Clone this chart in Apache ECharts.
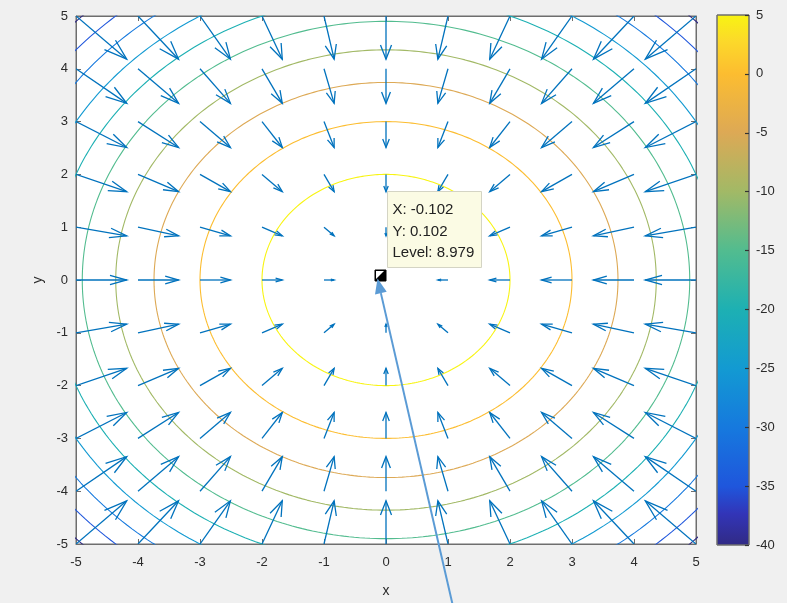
<!DOCTYPE html>
<html>
<head>
<meta charset="utf-8">
<script src="https://cdn.jsdelivr.net/npm/echarts@6/dist/echarts.min.js"></script>
<style>
html,body{margin:0;padding:0;background:#f0f0f0;}
#chart{width:787px;height:603px;}
</style>
</head>
<body>
<div id="chart"></div>
<script>
// ---- data ----
const xTicks = [-5, -4, -3, -2, -1, 0, 1, 2, 3, 4, 5];
const yTicks = [-5, -4, -3, -2, -1, 0, 1, 2, 3, 4, 5];
const gridX = [-5, -4, -3, -2, -1, 0, 1, 2, 3, 4, 5];
const gridY = [-5, -4, -3, -2, -1, 0, 1, 2, 3, 4, 5];
const gradU = [10, 8, 6, 4, 2, 0, -2, -4, -6, -8, -10];   // u at each gridX
const gradV = [10, 8, 6, 4, 2, 0, -2, -4, -6, -8, -10];   // v at each gridY
const levels = [-40, -35, -30, -25, -20, -15, -10, -5, 0, 5];
const surfacePeak = 9;            // f(x,y) = 9 - x^2 - y^2
const colorbarTicks = [-40, -35, -30, -25, -20, -15, -10, -5, 0, 5];
const dataTipX = -0.102;
const dataTipY = 0.102;
const dataTipLevel = 8.979;

// ---- styling helpers ----
const cmapStops = [
  [0.000, '#312a84'], [0.060, '#3235b8'], [0.111, '#1f56dc'], [0.222, '#1679de'],
  [0.333, '#139ad2'], [0.444, '#1db0b3'], [0.556, '#52bc8f'], [0.667, '#a2b966'],
  [0.778, '#dda955'], [0.889, '#fcbd30'], [0.950, '#fcd92a'], [1.000, '#f8f412']
];
function hex2rgb(h) { return [parseInt(h.slice(1,3),16), parseInt(h.slice(3,5),16), parseInt(h.slice(5,7),16)]; }
function cmapAt(t) {
  t = Math.max(0, Math.min(1, t));
  let i = 0;
  while (i < cmapStops.length - 2 && t > cmapStops[i + 1][0]) i++;
  const [t0, c0] = cmapStops[i], [t1, c1] = cmapStops[i + 1];
  const f = (t - t0) / (t1 - t0);
  const a = hex2rgb(c0), b = hex2rgb(c1);
  const c = a.map((v, k) => Math.round(v + (b[k] - v) * f));
  return 'rgb(' + c.join(',') + ')';
}
const cMin = colorbarTicks[0], cMax = colorbarTicks[colorbarTicks.length - 1];
const FONT = "'Liberation Sans', Arial, Helvetica, sans-serif";
const AXIS_COLOR = '#6e6e6e';
const LABEL_COLOR = '#2b2b2b';
const QUIVER_COLOR = '#0072BD';

// contour series
const contourSeries = levels.map(L => {
  const r = Math.sqrt(surfacePeak - L);
  const pts = [];
  for (let a = 0; a <= 360; a += 1) {
    const t = a * Math.PI / 180;
    pts.push([r * Math.cos(t), r * Math.sin(t)]);
  }
  return {
    type: 'line', xAxisIndex: 0, yAxisIndex: 0, data: pts, showSymbol: false, symbol: 'none',
    clip: true, silent: true, z: 2,
    lineStyle: { color: cmapAt((L - cMin) / (cMax - cMin)), width: 1.1 }
  };
});

// quiver data
const quiverData = [];
gridX.forEach((x, i) => gridY.forEach((y, j) => quiverData.push([x, y, gradU[i], gradV[j]])));
const SCALE = 0.0818, ALPHA = 0.33, BETA = 0.33;

const chart = echarts.init(document.getElementById('chart'), null, { renderer: 'canvas' });

const mirrorAxisStyle = {
  axisLine: { show: true, onZero: false, lineStyle: { color: AXIS_COLOR } },
  axisTick: { show: true, inside: true, length: 5, lineStyle: { color: AXIS_COLOR } },
  axisLabel: { show: false }, splitLine: { show: false }
};

const option = {
  animation: false,
  backgroundColor: '#f0f0f0',
  textStyle: { fontFamily: FONT },
  grid: [
    { left: 76, right: 91, top: 16, bottom: 59, show: true, backgroundColor: '#ffffff', borderColor: AXIS_COLOR, borderWidth: 1 },
    { left: 717, width: 32, top: 15, height: 530 }
  ],
  xAxis: [
    { gridIndex: 0, type: 'value', min: xTicks[0], max: xTicks[xTicks.length - 1], interval: 1, position: 'bottom',
      axisLine: { show: true, onZero: false, lineStyle: { color: AXIS_COLOR } },
      axisTick: { show: true, inside: true, length: 5, lineStyle: { color: AXIS_COLOR } },
      axisLabel: { color: LABEL_COLOR, fontSize: 13, fontFamily: FONT, margin: 12 },
      splitLine: { show: false },
      name: 'x', nameLocation: 'middle', nameGap: 40, nameTextStyle: { color: LABEL_COLOR, fontSize: 14, fontFamily: FONT } },
    { gridIndex: 1, type: 'value', min: 0, max: 1, show: false },
    Object.assign({ gridIndex: 0, type: 'value', min: xTicks[0], max: xTicks[xTicks.length - 1], interval: 1, position: 'top' }, mirrorAxisStyle)
  ],
  yAxis: [
    { gridIndex: 0, type: 'value', min: yTicks[0], max: yTicks[yTicks.length - 1], interval: 1, position: 'left',
      axisLine: { show: true, onZero: false, lineStyle: { color: AXIS_COLOR } },
      axisTick: { show: true, inside: true, length: 5, lineStyle: { color: AXIS_COLOR } },
      axisLabel: { color: LABEL_COLOR, fontSize: 13, fontFamily: FONT, margin: 8 },
      splitLine: { show: false },
      name: 'y', nameLocation: 'middle', nameGap: 27, nameTextStyle: { color: LABEL_COLOR, fontSize: 14, fontFamily: FONT } },
    { gridIndex: 1, type: 'value', min: cMin, max: cMax, interval: 5, position: 'right', z: 20,
      axisLine: { show: false, onZero: false },
      axisTick: { show: true, inside: true, length: 4, lineStyle: { color: '#333', width: 1.2 } },
      axisLabel: { color: LABEL_COLOR, fontSize: 13, fontFamily: FONT, margin: 7 },
      splitLine: { show: false } },
    Object.assign({ gridIndex: 0, type: 'value', min: yTicks[0], max: yTicks[yTicks.length - 1], interval: 1, position: 'right' }, mirrorAxisStyle)
  ],
  series: contourSeries.concat([
    {
      type: 'custom', xAxisIndex: 0, yAxisIndex: 0, data: quiverData, z: 5, silent: true, clip: true,
      encode: { x: 0, y: 1 },
      renderItem: function (params, api) {
        const x = api.value(0), y = api.value(1);
        const u = api.value(2) * SCALE, v = api.value(3) * SCALE;
        if (u === 0 && v === 0) return null;
        const p0 = api.coord([x, y]);
        const p1 = api.coord([x + u, y + v]);
        const h1 = api.coord([x + u - ALPHA * (u + BETA * v), y + v - ALPHA * (v - BETA * u)]);
        const h2 = api.coord([x + u - ALPHA * (u - BETA * v), y + v - ALPHA * (v + BETA * u)]);
        const st = { stroke: QUIVER_COLOR, lineWidth: 1.3, fill: null };
        return { type: 'group', children: [
          { type: 'line', shape: { x1: p0[0], y1: p0[1], x2: p1[0], y2: p1[1] }, style: st },
          { type: 'polyline', shape: { points: [h1, p1, h2] }, style: st }
        ] };
      }
    },
    {
      type: 'custom', xAxisIndex: 1, yAxisIndex: 1, data: [[0, cMin, 1, cMax]], silent: true, z: -5,
      encode: { x: 0, y: 1 },
      renderItem: function (params, api) {
        const a = api.coord([api.value(0), api.value(3)]);
        const b = api.coord([api.value(2), api.value(1)]);
        const stops = cmapStops.map(s => ({ offset: s[0], color: s[1] }));
        return { type: 'rect', shape: { x: a[0], y: a[1], width: b[0] - a[0], height: b[1] - a[1] },
          style: { fill: new echarts.graphic.LinearGradient(0, 1, 0, 0, stops), stroke: AXIS_COLOR, lineWidth: 1 } };
      }
    }
  ])
};
chart.setOption(option);

// ---- data tip + annotation arrow ----
const pt = chart.convertToPixel({ xAxisIndex: 0, yAxisIndex: 0 }, [dataTipX, dataTipY]);
const px = Math.round(pt[0]) + 0.5, py = Math.round(pt[1]) + 0.5;
const sq = 11;
const sx = px - sq / 2, sy = py - sq / 2;
const tipX = px - 3, tipY = py + 3;
const tailX = 455, tailY = 615;
const ang = Math.atan2(tipY - tailY, tipX - tailX);
const hl = 15, hw = 6;
const bx = tipX - hl * Math.cos(ang), by = tipY - hl * Math.sin(ang);
const nx = -Math.sin(ang), ny = Math.cos(ang);
const boxX = px + 7, boxY = py - 84;
const TIP_FONT = '15px ' + FONT;
chart.setOption({
  graphic: [
    { type: 'rect', shape: { x: boxX, y: boxY, width: 94, height: 76 }, style: { fill: '#fbfbe4', stroke: '#d4d4c4', lineWidth: 1 }, z: 100 },
    { type: 'text', x: boxX + 5, y: boxY + 18, style: { text: 'X: ' + dataTipX.toFixed(3), fill: '#222', font: TIP_FONT, textVerticalAlign: 'middle' }, z: 101 },
    { type: 'text', x: boxX + 5, y: boxY + 40, style: { text: 'Y: ' + dataTipY.toFixed(3), fill: '#222', font: TIP_FONT, textVerticalAlign: 'middle' }, z: 101 },
    { type: 'text', x: boxX + 5, y: boxY + 61, style: { text: 'Level: ' + dataTipLevel.toFixed(3), fill: '#222', font: TIP_FONT, textVerticalAlign: 'middle' }, z: 101 },
    { type: 'rect', shape: { x: sx, y: sy, width: sq, height: sq }, style: { fill: '#000', stroke: '#000', lineWidth: 1 }, z: 100 },
    { type: 'polygon', shape: { points: [[sx + 1, sy + 1], [sx + sq - 2, sy + 1], [sx + 1, sy + sq - 2]] }, style: { fill: '#ffffff' }, z: 101 },
    { type: 'line', shape: { x1: tailX, y1: tailY, x2: bx, y2: by }, style: { stroke: '#5b9bd5', lineWidth: 2 }, z: 110 },
    { type: 'polygon', shape: { points: [[tipX, tipY], [bx + nx * hw, by + ny * hw], [bx - nx * hw, by - ny * hw]] }, style: { fill: '#5b9bd5' }, z: 110 }
  ]
});
</script>
</body>
</html>
